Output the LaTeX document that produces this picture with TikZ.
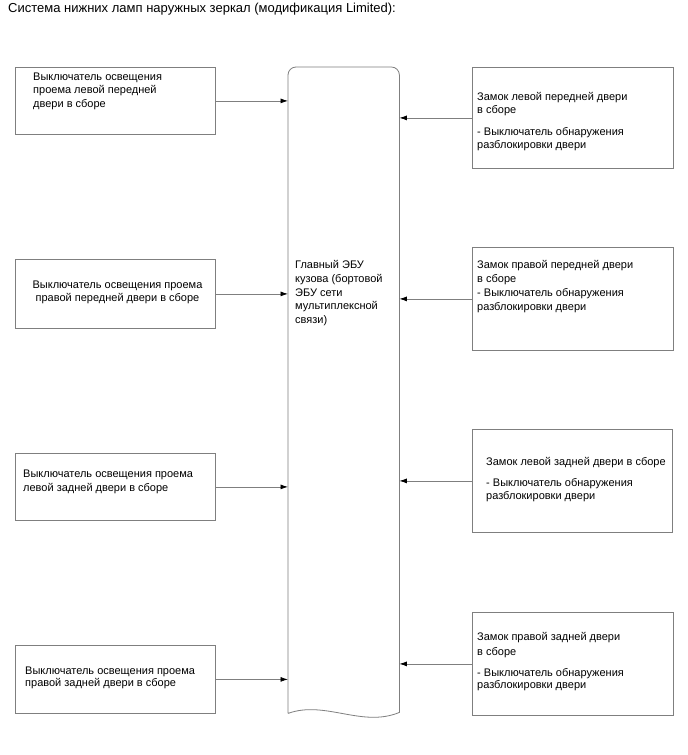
\documentclass[tikz,border=0pt]{standalone}
\usepackage{fontspec}
\setmainfont{Liberation Sans}
\usetikzlibrary{arrows.meta}
\definecolor{linegray}{HTML}{7F7F7F}
\begin{document}
\begin{tikzpicture}[x=1pt,y=-1pt,
  boxnode/.style={draw=linegray, line width=0.8pt, rectangle, inner sep=0pt, anchor=north west},
  txt/.style={inner sep=0pt, anchor=base west, align=left},
  fs/.style={font=\fontsize{11}{#1}\selectfont},
  arr/.style={draw=linegray, line width=0.8pt, -{Latex[length=7.5pt,width=5pt,color=black]}}]
\fill[white] (0,0) rectangle (688,755);
\useasboundingbox (0,0) rectangle (688,755);

% title
\node[txt, font=\fontsize{13}{15}\selectfont] (title) at (8,12)
  {Система нижних ламп наружных зеркал (модификация Limited):};

% central ECU (document shape)
\node[minimum width=111pt, minimum height=646pt, inner sep=0pt, anchor=north west] (ecu) at (288,67) {};
\draw[linegray, line width=0.8pt]
  (ecu.south west) -- ([yshift=-8pt]ecu.north west)
  arc[start angle=180, end angle=90, radius=8pt]
  -- ([xshift=-8pt]ecu.north east)
  arc[start angle=90, end angle=0, radius=8pt]
  -- ([yshift=1pt]ecu.south east)
  .. controls (362,728) and (325,700) .. (ecu.south west);
\node[txt, fs=13.75] (ecut) at (295,323.5)
  {Главный ЭБУ\\кузова (бортовой\\ЭБУ сети\\мультиплексной\\связи)};

% left boxes
\node[boxnode, minimum width=200pt, minimum height=67pt] (L1) at (15,67) {};
\node[txt, fs=13.5] (L1t) at (33,107)
  {Выключатель освещения\\проема левой передней\\двери в сборе};

\node[boxnode, minimum width=200pt, minimum height=69pt] (L2) at (15,259) {};
\node[txt, fs=13, align=center, anchor=base] (L2t) at (117.5,301)
  {Выключатель освещения проема\\правой передней двери в сборе};

\node[boxnode, minimum width=200pt, minimum height=67pt] (L3) at (15,453) {};
\node[txt, fs=14] (L3t) at (23,491)
  {Выключатель освещения проема\\левой задней двери в сборе};

\node[boxnode, minimum width=200pt, minimum height=68pt] (L4) at (15,645) {};
\node[txt, fs=12] (L4t) at (25,686)
  {Выключатель освещения проема\\правой задней двери в сборе};

% right boxes
\node[boxnode, minimum width=201pt, minimum height=101pt] (R1) at (472,67) {};
\node[txt, fs=13] (R1t) at (477,148)
  {Замок левой передней двери\\в сборе\\[9pt]- Выключатель обнаружения\\разблокировки двери};

\node[boxnode, minimum width=201pt, minimum height=103pt] (R2) at (472,247) {};
\node[txt, fs=14] (R2t) at (477,310.5)
  {Замок правой передней двери\\в сборе\\- Выключатель обнаружения\\разблокировки двери};

\node[boxnode, minimum width=200pt, minimum height=103pt] (R3) at (472,429) {};
\node[txt, fs=13] (R3t) at (486,499.5)
  {Замок левой задней двери в сборе\\[8pt]- Выключатель обнаружения\\разблокировки двери};

\node[boxnode, minimum width=201pt, minimum height=103pt] (R4) at (472,612) {};
\node[txt, fs=12] (R4t) at (477,688.5)
  {Замок правой задней двери\\[2.5pt]в сборе\\[9.5pt]- Выключатель обнаружения\\разблокировки двери};

% connectors
\draw[arr] (L1.east) -- (L1.east -| ecu.west);
\draw[arr] (L2.east) -- (L2.east -| ecu.west);
\draw[arr] (L3.east) -- (L3.east -| ecu.west);
\draw[arr] (L4.east) -- (L4.east -| ecu.west);
\draw[arr] (R1.west) -- (R1.west -| ecu.east);
\draw[arr] (R2.west) -- (R2.west -| ecu.east);
\draw[arr] (R3.west) -- (R3.west -| ecu.east);
\draw[arr] (R4.west) -- (R4.west -| ecu.east);
\end{tikzpicture}
\end{document}
